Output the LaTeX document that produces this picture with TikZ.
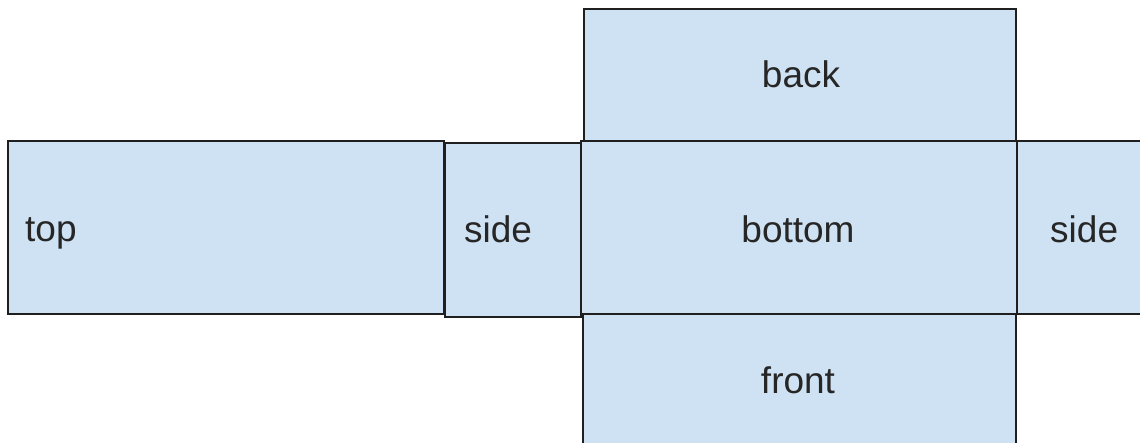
\documentclass[tikz,border=0pt]{standalone}
\usepackage{fontspec}
\setmainfont{Liberation Sans}
\definecolor{facefill}{HTML}{CFE2F3}
\definecolor{faceline}{HTML}{1F1F1F}
\tikzset{
  face/.style={draw=faceline, fill=facefill, line width=2pt, rectangle, inner sep=0pt},
  facetext/.style={font=\fontsize{37}{40}\selectfont, text=black!85, inner sep=0pt}
}
\begin{document}
\begin{tikzpicture}[x=1pt,y=-1pt]
\useasboundingbox (0,0) rectangle (1140,443);
\clip (0,0) rectangle (1140,443);
\fill[white] (0,0) rectangle (1140,443);
% faces
\node[face, minimum width=436, minimum height=173, anchor=north west] (top) at (7,140) {};
\node[face, minimum width=136, minimum height=174, anchor=north west] (side1) at (444,142) {};
\node[face, minimum width=432, minimum height=132, anchor=north west] (back) at (583,8) {};
\node[face, minimum width=433, minimum height=140, anchor=north west] (front) at (582,313) {};
\node[face, minimum width=436, minimum height=173, anchor=north west] (bottom) at (580,140) {};
\node[face, minimum width=140, minimum height=173, anchor=north west] (side2) at (1016,140) {};
% labels
\node[facetext, anchor=base west] (ttop) at (25,242) {top};
\node[facetext, anchor=base west] (tside1) at (464,243) {side};
\node[facetext, anchor=base] (tback) at (801,88) {back};
\node[facetext, anchor=base] (tbottom) at (798,243) {bottom};
\node[facetext, anchor=base] (tfront) at (798,393) {front};
\node[facetext, anchor=base west] (tside2) at (1050,243) {side};
\end{tikzpicture}
\end{document}
